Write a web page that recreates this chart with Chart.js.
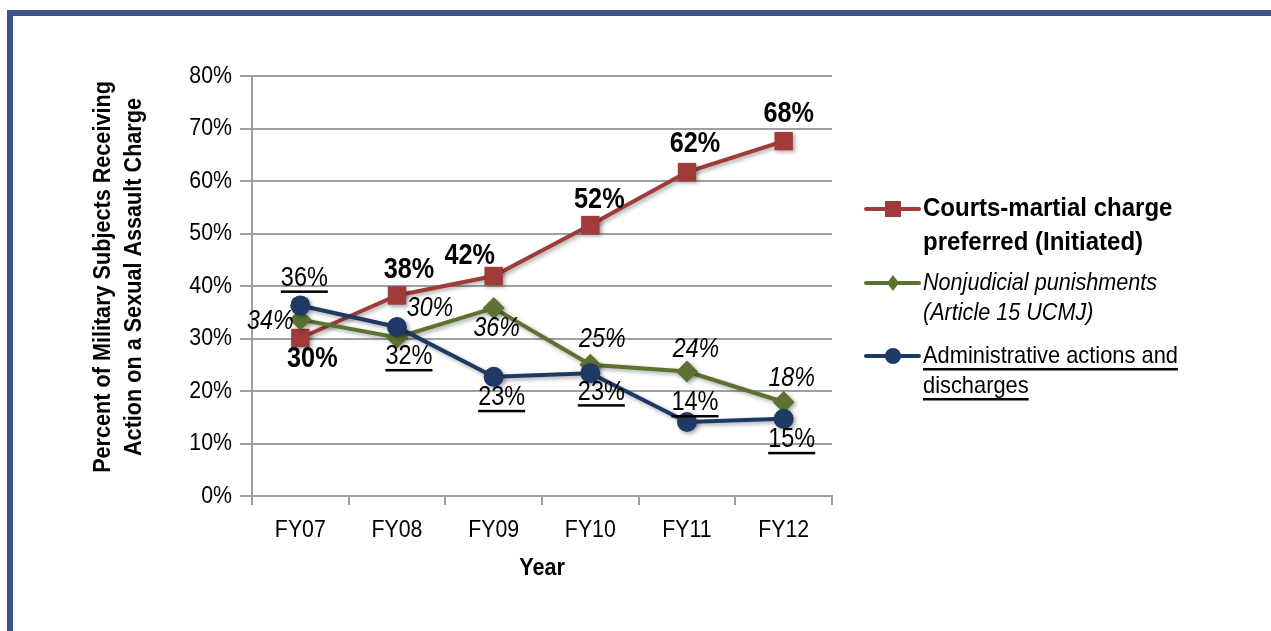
<!DOCTYPE html>
<html>
<head>
<meta charset="utf-8">
<script src="https://cdn.jsdelivr.net/npm/chart.js@4.4.1/dist/chart.umd.min.js"></script>
<style>
  html, body { margin: 0; padding: 0; background: #ffffff; }
  #wrap { position: relative; width: 1271px; height: 631px; overflow: hidden; }
  #frame { position: absolute; left: 7px; top: 10px; right: -10px; bottom: -10px;
           border-top: 6px solid #425387; border-left: 6px solid #425387; }
  canvas { position: absolute; left: 0; top: 0; }
</style>
</head>
<body>
<div id="wrap">
  <div id="frame"></div>
  <canvas id="c" width="1271" height="631"></canvas>
</div>
<script>
// ---- data ----
const categories = ['FY07', 'FY08', 'FY09', 'FY10', 'FY11', 'FY12'];
const courtsMartial = [30.1, 38.2, 41.9, 51.6, 61.7, 67.6];
const nonjudicial = [33.6, 30.2, 35.8, 25.0, 23.7, 17.9];
const administrative = [36.3, 32.2, 22.7, 23.4, 14.1, 14.7];
const courtsLabels = ['30%', '38%', '42%', '52%', '62%', '68%'];
const nonjudicialLabels = ['34%', '30%', '36%', '25%', '24%', '18%'];
const adminLabels = ['36%', '32%', '23%', '23%', '14%', '15%'];
const yTickValues = [0, 10, 20, 30, 40, 50, 60, 70, 80];
const legendCourts = ['Courts-martial charge', 'preferred (Initiated)'];
const legendNonjudicial = ['Nonjudicial punishments', '(Article 15 UCMJ)'];
const legendAdmin = ['Administrative actions and', 'discharges'];
const yTitle = ['Percent of Military Subjects Receiving', 'Action on a Sexual Assault Charge'];
const xTitle = 'Year';

// ---- style ----
const FONT = '"Liberation Sans", Arial, sans-serif';
const RED = '#9F3B39';
const GREEN = '#5B7231';
const BLUE = '#1E3A64';
// label offsets (dx, dy) relative to each point
const courtsOffsets = [[12, 21], [12, -25], [-24, -20], [9, -25], [8, -28], [5, -27]];
const nonjudicialOffsets = [[-30, 2], [33, -29], [3, 20], [12, -25], [9, -22], [8, -24]];
const adminOffsets = [[4, -27], [12, 30], [8, 21], [11, 19], [8, -19], [8, 21]];

// draw horizontally condensed text (the original uses a narrow face)
function condensedText(ctx, text, x, y, font, sx, align, underline) {
  ctx.save();
  ctx.translate(x, y);
  ctx.scale(sx, 1);
  ctx.font = font;
  ctx.textAlign = align;
  ctx.textBaseline = 'middle';
  ctx.fillText(text, 0, 0);
  if (underline) {
    const w = ctx.measureText(text).width;
    let x0 = align === 'center' ? -w / 2 : (align === 'right' ? -w : 0);
    ctx.fillRect(x0, 12, w, 2.5);
  }
  ctx.restore();
}

const labelPlugin = {
  id: 'pointLabels',
  afterDatasetsDraw(chart) {
    const ctx = chart.ctx;
    chart.data.datasets.forEach((ds, di) => {
      const meta = chart.getDatasetMeta(di);
      const cfg = ds.labelCfg;
      ctx.save();
      ctx.fillStyle = '#000';
      meta.data.forEach((pt, i) => {
        condensedText(ctx, cfg.texts[i], pt.x + cfg.offsets[i][0], pt.y + cfg.offsets[i][1],
                      cfg.font, cfg.sx, 'center', cfg.underline);
      });
      ctx.restore();
    });
  }
};

const shadowPlugin = {
  id: 'shadow',
  beforeDatasetDraw(chart) {
    const ctx = chart.ctx;
    ctx.save();
    ctx.shadowColor = 'rgba(0,0,0,0.35)';
    ctx.shadowBlur = 4;
    ctx.shadowOffsetX = 2;
    ctx.shadowOffsetY = 2;
  },
  afterDatasetDraw(chart) {
    chart.ctx.restore();
  }
};

const decorPlugin = {
  id: 'decor',
  afterDraw(chart) {
    const ctx = chart.ctx;
    const xs = chart.scales.x, ys = chart.scales.y;
    ctx.save();
    ctx.fillStyle = '#000';
    // tick labels
    ys.ticks.forEach(t => {
      condensedText(ctx, t.value + '%', 232, ys.getPixelForValue(t.value), '24.5px ' + FONT, 0.87, 'right');
    });
    categories.forEach((c, i) => {
      condensedText(ctx, c, xs.getPixelForValue(i), 530, '24.5px ' + FONT, 0.87, 'center');
    });
    // y title
    ctx.save();
    ctx.translate(104, 277);
    ctx.rotate(-Math.PI / 2);
    condensedText(ctx, yTitle[0], 0, 0, 'bold 23.5px ' + FONT, 0.92, 'center');
    condensedText(ctx, yTitle[1], 0, 31, 'bold 23.5px ' + FONT, 0.92, 'center');
    ctx.restore();
    // x title
    condensedText(ctx, xTitle, (chart.chartArea.left + chart.chartArea.right) / 2, 568, 'bold 24px ' + FONT, 0.9, 'center');

    // legend
    const items = [
      { lines: legendCourts, color: RED, shape: 'rect', font: 'bold 25px ' + FONT, sx: 0.96, y: 209, lh: 34, ul: false },
      { lines: legendNonjudicial, color: GREEN, shape: 'rectRot', font: 'italic 24px ' + FONT, sx: 0.9, y: 283, lh: 30, ul: false },
      { lines: legendAdmin, color: BLUE, shape: 'circle', font: '24px ' + FONT, sx: 0.91, y: 356, lh: 30, ul: true }
    ];
    items.forEach(it => {
      ctx.strokeStyle = it.color;
      ctx.fillStyle = it.color;
      ctx.lineWidth = 4;
      ctx.lineCap = 'round';
      ctx.beginPath();
      ctx.moveTo(866, it.y);
      ctx.lineTo(919, it.y);
      ctx.stroke();
      if (it.shape === 'rect') {
        ctx.fillRect(885, it.y - 8, 16, 16);
      } else if (it.shape === 'rectRot') {
        ctx.beginPath();
        ctx.moveTo(893, it.y - 8); ctx.lineTo(899, it.y); ctx.lineTo(893, it.y + 8); ctx.lineTo(887, it.y);
        ctx.closePath(); ctx.fill();
      } else {
        ctx.beginPath(); ctx.arc(893, it.y, 8, 0, Math.PI * 2); ctx.fill();
      }
      ctx.fillStyle = '#000';
      it.lines.forEach((ln, k) => {
        condensedText(ctx, ln, 923, it.y + k * it.lh, it.font, it.sx, 'left', it.ul);
      });
    });
    ctx.restore();
  }
};

new Chart(document.getElementById('c'), {
  type: 'line',
  data: {
    labels: categories,
    datasets: [
      {
        label: legendCourts.join(' '), data: courtsMartial, order: 3,
        borderColor: RED, backgroundColor: RED, borderWidth: 4,
        pointStyle: 'rect', pointRadius: 13, pointBorderWidth: 0,
        labelCfg: { texts: courtsLabels, offsets: courtsOffsets, font: 'bold 29px ' + FONT, sx: 0.87, underline: false }
      },
      {
        label: legendNonjudicial.join(' '), data: nonjudicial, order: 2,
        borderColor: GREEN, backgroundColor: GREEN, borderWidth: 4,
        pointStyle: 'rectRot', pointRadius: 11, pointBorderWidth: 0,
        labelCfg: { texts: nonjudicialLabels, offsets: nonjudicialOffsets, font: 'italic 27px ' + FONT, sx: 0.86, underline: false }
      },
      {
        label: legendAdmin.join(' '), data: administrative, order: 1,
        borderColor: BLUE, backgroundColor: BLUE, borderWidth: 4,
        pointStyle: 'circle', pointRadius: 10, pointBorderWidth: 0,
        labelCfg: { texts: adminLabels, offsets: adminOffsets, font: '27px ' + FONT, sx: 0.87, underline: true }
      }
    ]
  },
  options: {
    responsive: false,
    animation: false,
    events: [],
    layout: { padding: { left: 0, right: 439, top: 76, bottom: 0 } },
    plugins: { legend: { display: false }, tooltip: { enabled: false } },
    elements: { line: { tension: 0 } },
    scales: {
      x: {
        offset: true,
        grid: { offset: true, drawOnChartArea: false, color: '#A0A0A0', lineWidth: 2, tickLength: 9 },
        border: { color: '#A0A0A0', width: 2 },
        ticks: { display: false },
        afterFit(s) { s.height = 135; }
      },
      y: {
        min: 0, max: 80,
        afterBuildTicks(s) { s.ticks = yTickValues.map(v => ({ value: v })); },
        grid: { color: '#A0A0A0', lineWidth: 2, tickLength: 12 },
        border: { color: '#A0A0A0', width: 2 },
        ticks: { display: false },
        afterFit(s) { s.width = 252; }
      }
    }
  },
  plugins: [shadowPlugin, labelPlugin, decorPlugin]
});
</script>
</body>
</html>
